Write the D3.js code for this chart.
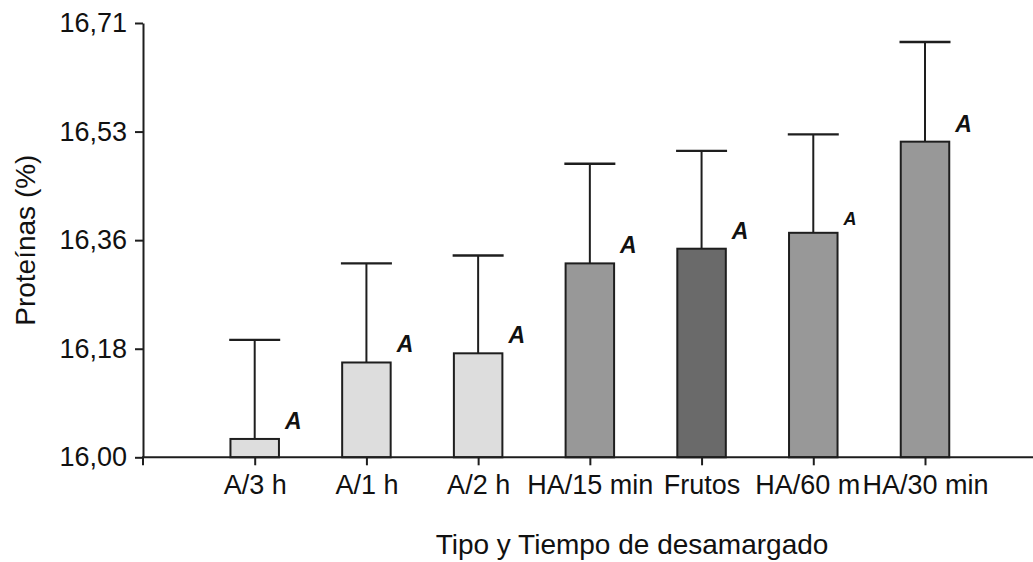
<!DOCTYPE html>
<html>
<head>
<meta charset="utf-8">
<script src="https://cdn.jsdelivr.net/npm/d3@7"></script>
<style>
  html, body { margin: 0; padding: 0; background: #fff; }
  svg { display: block; font-family: "Liberation Sans", Arial, sans-serif; }
</style>
</head>
<body>
<svg id="chart" width="1033" height="562"></svg>
<script>
// ---- data ----
const categories = ["A/3 h", "A/1 h", "A/2 h", "HA/15 min", "Frutos", "HA/60 m", "HA/30 min"];
const means      = [16.030, 16.155, 16.170, 16.317, 16.341, 16.367, 16.516];
const errorTops  = [16.192, 16.317, 16.330, 16.480, 16.501, 16.528, 16.679];
const letters    = ["A", "A", "A", "A", "A", "A", "A"];
const groups     = ["acido", "acido", "acido", "hidro", "control", "hidro", "hidro"];
const yTickValues = [16.00, 16.1775, 16.355, 16.5325, 16.71];
const yTickLabels = ["16,00", "16,18", "16,36", "16,53", "16,71"];
const yTitle = "Proteínas (%)";
const xTitle = "Tipo y Tiempo de desamargado";

// ---- layout / style ----
const W = 1033, H = 562;
const plotLeft = 143, plotRight = 1033, plotTop = 23, plotBottom = 457.3;
const firstCenter = 254.7, lastCenter = 925;
const barWidth = 48.5, capWidth = 51;
const fills = { acido: "#dddddd", hidro: "#989898", control: "#6a6a6a" };
const ink = "#1e1e1e";
const smallLetterIndex = 5;

const svg = d3.select("#chart");

const x = d3.scalePoint().domain(categories).range([firstCenter, lastCenter]);
const y = d3.scaleLinear().domain([16.00, 16.71]).range([plotBottom, plotTop]);

const data = categories.map((c, i) => ({ c, m: means[i], e: errorTops[i], l: letters[i], g: groups[i], i }));

// error bars
const eb = svg.append("g");
eb.selectAll("line.v").data(data).join("line")
  .attr("x1", d => x(d.c)).attr("x2", d => x(d.c))
  .attr("y1", d => y(d.m)).attr("y2", d => y(d.e))
  .attr("stroke", ink).attr("stroke-width", 2);
eb.selectAll("line.cap").data(data).join("line")
  .attr("x1", d => x(d.c) - capWidth / 2).attr("x2", d => x(d.c) + capWidth / 2)
  .attr("y1", d => y(d.e)).attr("y2", d => y(d.e))
  .attr("stroke", ink).attr("stroke-width", 2.4);

// bars
svg.append("g").selectAll("rect").data(data).join("rect")
  .attr("x", d => x(d.c) - barWidth / 2)
  .attr("y", d => y(d.m))
  .attr("width", barWidth)
  .attr("height", d => y(16.00) - y(d.m))
  .attr("fill", d => fills[d.g])
  .attr("stroke", ink).attr("stroke-width", 2);

// significance letters
svg.append("g").selectAll("text").data(data).join("text")
  .attr("x", d => x(d.c) + barWidth / 2 + 6)
  .attr("y", d => y(d.m) - (d.i === smallLetterIndex ? 8 : 10))
  .attr("font-size", d => d.i === smallLetterIndex ? 18 : 23)
  .attr("font-weight", "bold")
  .attr("font-style", "italic")
  .attr("fill", "#111")
  .text(d => d.l);

// y axis
const yAxis = svg.append("g")
  .attr("transform", `translate(${plotLeft},0)`)
  .call(d3.axisLeft(y).tickValues(yTickValues).tickFormat((d, i) => yTickLabels[i]).tickSize(8).tickSizeOuter(0).tickPadding(8));
yAxis.select(".domain").attr("stroke", ink).attr("stroke-width", 2);
yAxis.selectAll(".tick line").attr("stroke", ink).attr("stroke-width", 2);
yAxis.selectAll(".tick text").attr("font-size", 27).attr("fill", "#111").attr("font-family", null);

// x axis
const xAxis = svg.append("g")
  .attr("transform", `translate(0,${plotBottom})`)
  .call(d3.axisBottom(x).tickSize(8).tickSizeOuter(0).tickPadding(10));
xAxis.select(".domain").remove();
xAxis.selectAll(".tick line").attr("stroke", ink).attr("stroke-width", 2);
xAxis.selectAll(".tick text").attr("font-size", 27).attr("fill", "#111").attr("font-family", null)
  .attr("dx", (d, i) => i === smallLetterIndex ? -6 : 0);
xAxis.append("path")
  .attr("d", `M${plotLeft},8V0H${plotRight}`)
  .attr("fill", "none").attr("stroke", ink).attr("stroke-width", 2);

// titles
svg.append("text")
  .attr("transform", `translate(25,${(plotTop + plotBottom) / 2}) rotate(-90)`)
  .attr("text-anchor", "middle").attr("dominant-baseline", "central")
  .attr("font-size", 28).attr("fill", "#111")
  .text(yTitle);
svg.append("text")
  .attr("x", 632).attr("y", 554)
  .attr("text-anchor", "middle")
  .attr("font-size", 28).attr("fill", "#111")
  .text(xTitle);
</script>
</body>
</html>
